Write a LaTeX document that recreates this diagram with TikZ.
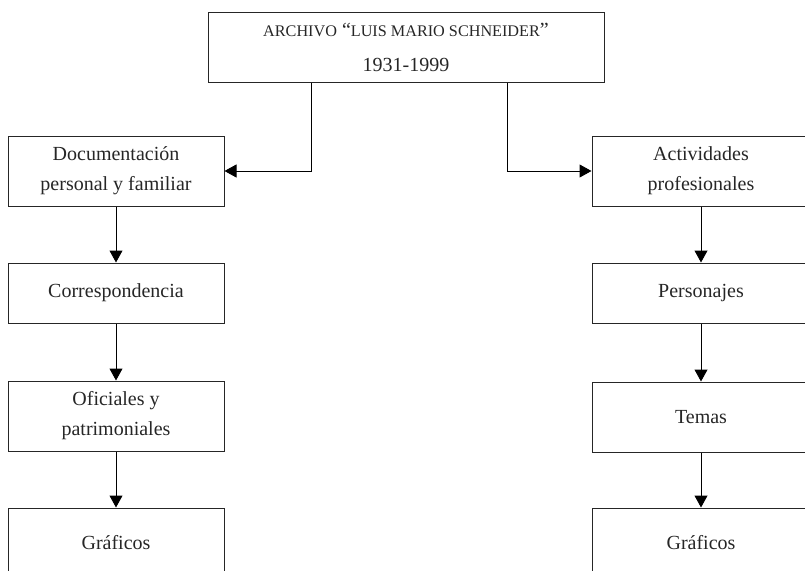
\documentclass[tikz,border=0pt]{standalone}
\usepackage{fontspec}
\setmainfont{Liberation Serif}
\usetikzlibrary{arrows.meta}
\tikzset{
  box/.style={draw=black!85, line width=1pt, rectangle, minimum width=216pt, align=center,
     font=\fontsize{20}{30}\selectfont, inner sep=0pt, text=black!85},
  arr/.style={draw=black, line width=1pt, -{Triangle[width=13pt,length=12pt]}}
}
\newcommand{\smc}[1]{{\fontsize{16.2}{16}\selectfont #1}}
\begin{document}
\begin{tikzpicture}[x=1pt,y=1pt]
\useasboundingbox (0,0) rectangle (805,-570);
\clip (0,0) rectangle (805,-570);
\node[box, minimum width=396pt, minimum height=70pt, font=\fontsize{20}{35}\selectfont] (top) at (406,-47)
  {\smc{ARCHIVO} ``\smc{LUIS MARIO SCHNEIDER}''\\1931-1999};
\node[box, minimum height=70pt] (L1) at (116,-171) {Documentación\\personal y familiar};
\node[box, minimum height=60pt] (L2) at (116,-293) {Correspondencia};
\node[box, minimum height=70pt] (L3) at (116,-416) {Oficiales y\\patrimoniales};
\node[box, minimum height=70pt] (L4) at (116,-543) {Gráficos};
\node[box, minimum height=70pt, minimum width=218pt] (R1) at (701,-171) {Actividades\\profesionales};
\node[box, minimum height=60pt, minimum width=218pt] (R2) at (701,-293) {Personajes};
\node[box, minimum height=70pt, minimum width=218pt] (R3) at (701,-417) {Temas};
\node[box, minimum height=70pt, minimum width=218pt] (R4) at (701,-543) {Gráficos};
\draw[arr] ([xshift=-95pt]top.south) |- (L1.east);
\draw[arr] ([xshift=101pt]top.south) |- (R1.west);
\draw[arr] (L1) -- (L2);
\draw[arr] (L2) -- (L3);
\draw[arr] (L3) -- (L4);
\draw[arr] (R1) -- (R2);
\draw[arr] (R2) -- (R3);
\draw[arr] (R3) -- (R4);
\end{tikzpicture}
\end{document}
